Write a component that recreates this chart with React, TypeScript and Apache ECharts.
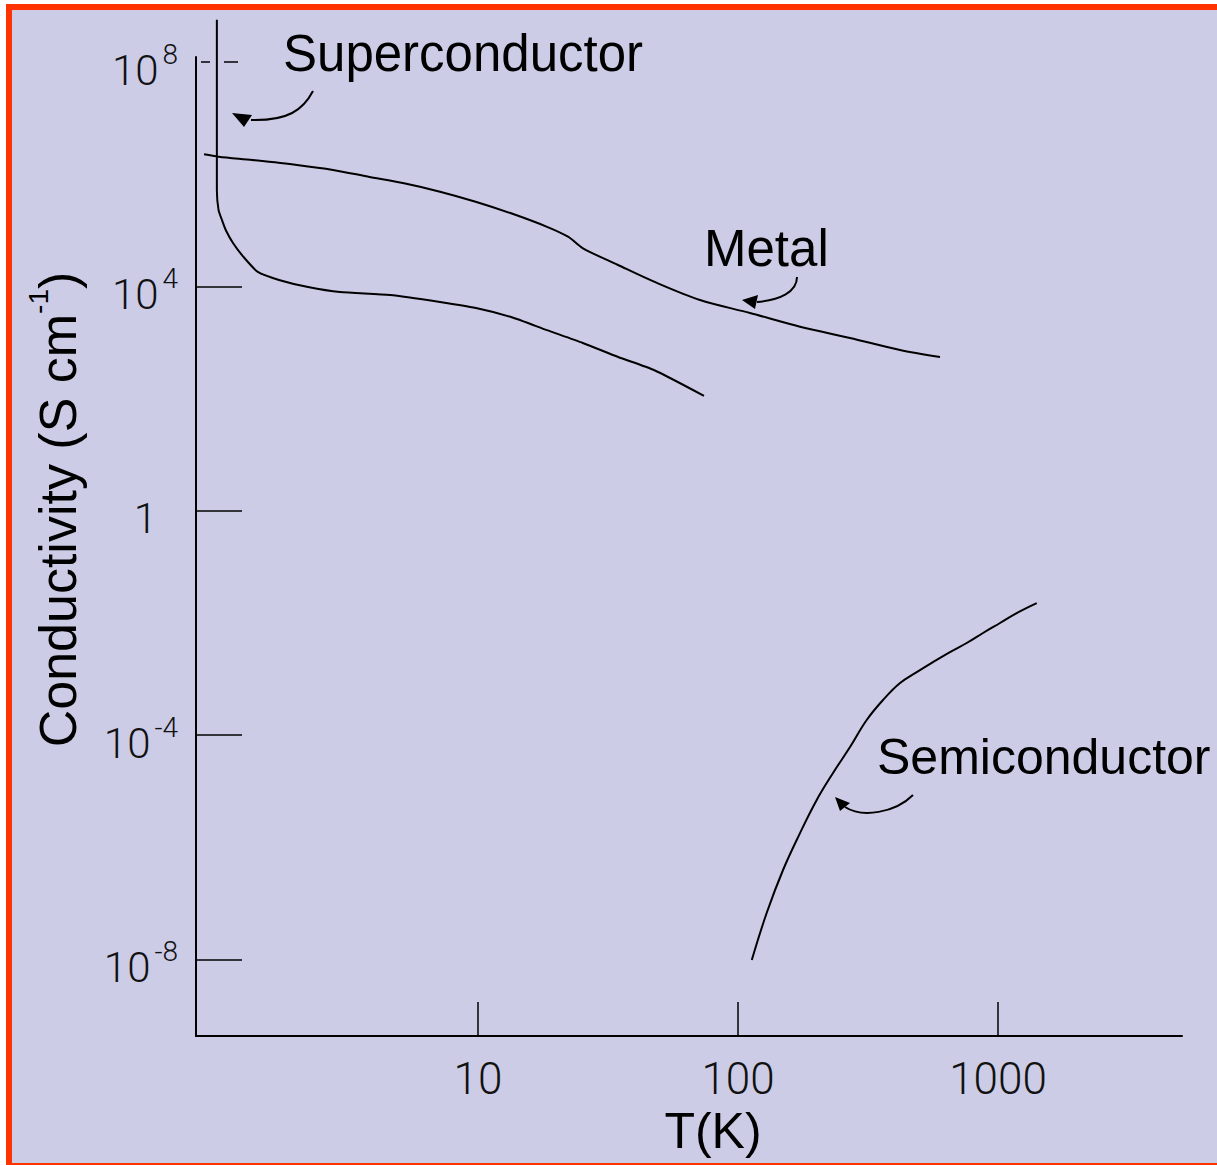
import React, { useEffect, useRef } from 'react';
import * as echarts from 'echarts';

// ---- data (temperature in K, conductivity in S/cm) ----
const superconductorT = [0.99, 0.99, 0.99, 1.005, 1.036, 1.071, 1.142, 1.254, 1.423, 1.716, 2.22, 2.945, 4.59, 7.14, 9.82, 13.4, 18.4, 25.3, 34.6, 47.5, 74.0];
const superconductorSigma = [5.7e8, 7.0e6, 5.2e5, 2.31e5, 1.53e5, 1.02e5, 5.97e4, 3.36e4, 1.82e4, 1.31e4, 9.8e3, 7.98e3, 7.06e3, 5.3e3, 4.14e3, 2.86e3, 1.67e3, 984, 553, 324, 112];

const metalT = [0.884, 1.005, 1.357, 2.013, 2.769, 3.792, 5.193, 7.142, 9.79, 13.4, 18.43, 22.19, 25.34, 34.56, 47.54, 71.42, 111.2, 173.2, 269.7, 420, 598.4];
const metalSigma = [2.28e6, 2.07e6, 1.8e6, 1.47e6, 1.2e6, 9.08e5, 6.92e5, 4.91e5, 3.25e5, 2.02e5, 1.16e5, 7.73e4, 4.8e4, 2.42e4, 1.22e4, 5.74e3, 3.37e3, 1.92e3, 1.21e3, 738, 553];

const semiT = [113, 128.9, 149, 173.2, 200.8, 232, 269.7, 312.6, 361.2, 420, 486.9, 562.3, 653.8, 758.1, 875.8, 1018, 1180, 1409];
const semiSigma = [9.75e-9, 6.71e-8, 3.93e-7, 1.79e-6, 6.97e-6, 2.11e-5, 6.14e-5, 1.86e-4, 4.23e-4, 8.49e-4, 1.33e-3, 2.01e-3, 3.03e-3, 4.39e-3, 6.62e-3, 9.98e-3, 1.5e-2, 2.26e-2];

const xTickValues = [10, 100, 1000];
const xTickLabels = ['10', '100', '1000'];
const yTickValues = [1e-8, 1e-4, 1, 1e4, 1e8];
const yDashedTickValues = [1e8];

const seriesNames = ['Superconductor', 'Metal', 'Semiconductor'];
const axisNameX = 'T(K)';
const axisNameY = 'Conductivity (S cm{sup|-1})';

// ---- helpers ----
const lg = (v: number) => Math.log10(v);
const toPoints = (ts: number[], ss: number[]) => ts.map((t, i) => [lg(t), lg(ss[i])]);
const xTickExp = xTickValues.map((v) => Math.round(lg(v)));
const yTickExp = yTickValues.map((v) => Math.round(lg(v)));
const yDashedExp = yDashedTickValues.map((v) => Math.round(lg(v)));

const BG = '#CCCCE6';
const RED = '#FF3300';
const TXT = 'Liberation Sans, Arial, sans-serif';
const TICKFONT = 'Roboto, Liberation Sans, sans-serif';

const X_MIN = -0.0846;
const X_MAX = 3.7077;
const Y_MIN = -9.366;
const Y_MAX = 8.093;

function buildOption(): any {
  const lineStyle = { color: '#000', width: 2 };
  const yLabelFormatter = (v: number) => {
    const e = Math.round(v);
    if (e === 0) return '{one|1}';
    return '{b|10}{s|' + e + '}';
  };
  const yRich = {
    b: { fontFamily: TICKFONT, fontWeight: 300, fontSize: 42, color: '#111', padding: [16, 0, 0, 0], verticalAlign: 'middle' },
    one: { fontFamily: TICKFONT, fontWeight: 300, fontSize: 42, color: '#111', padding: [16, 21, 0, 0], verticalAlign: 'middle' },
    s: { fontFamily: TICKFONT, fontWeight: 300, fontSize: 28, color: '#111', padding: [0, 0, 16, 4], verticalAlign: 'middle' },
  };
  return {
    animation: false,
    backgroundColor: '#ffffff',
    grid: { left: 196, right: 35, top: 57, bottom: 129, outerBoundsMode: 'none', containLabel: false },
    xAxis: {
      type: 'value',
      min: X_MIN,
      max: X_MAX,
      axisLine: { show: true, onZero: false, lineStyle: { color: '#000', width: 2 } },
      axisTick: { show: true, inside: true, length: 34, lineStyle: { color: '#000', width: 1.5 }, customValues: xTickExp },
      axisLabel: {
        show: true,
        customValues: xTickExp,
        margin: 21,
        fontFamily: TICKFONT,
        fontWeight: 300,
        fontSize: 44,
        lineHeight: 44,
        color: '#111',
        formatter: (v: number) => {
          const i = xTickExp.indexOf(Math.round(v));
          return i >= 0 ? xTickLabels[i] : '';
        },
      },
      splitLine: { show: false },
      name: axisNameX,
      nameLocation: 'middle',
      nameGap: 65,
      nameTextStyle: { fontFamily: TXT, fontSize: 50, lineHeight: 50, color: '#000', padding: [0, 0, 0, 48] },
    },
    yAxis: [
      {
        type: 'value',
        min: Y_MIN,
        max: Y_MAX,
        position: 'left',
        axisLine: { show: true, onZero: false, lineStyle: { color: '#000', width: 2 } },
        axisTick: { show: true, inside: true, length: 46, lineStyle: { color: '#000', width: 1.5 }, customValues: yTickExp.filter((e) => yDashedExp.indexOf(e) < 0) },
        axisLabel: { show: true, customValues: yTickExp, margin: 18, formatter: yLabelFormatter, rich: yRich },
        splitLine: { show: false },
        name: axisNameY,
        nameLocation: 'middle',
        nameGap: 112,
        nameTextStyle: {
          fontFamily: TXT,
          fontSize: 52,
          lineHeight: 52,
          color: '#000',
          padding: [0, 0, 0, 74],
          rich: { sup: { fontFamily: TXT, fontSize: 28, color: '#000', padding: [0, 0, 40, 0], verticalAlign: 'middle' } },
        },
      },
      {
        type: 'value',
        min: Y_MIN,
        max: Y_MAX,
        position: 'left',
        offset: 0,
        axisLine: { show: false, onZero: false },
        axisTick: { show: true, inside: true, length: 42, lineStyle: { color: '#000', width: 1.5, type: [9, 14, 14, 10], dashOffset: 42 }, customValues: yDashedExp },
        axisLabel: { show: false },
        splitLine: { show: false },
      },
    ],
    series: [
      { name: seriesNames[0], type: 'line', data: toPoints(superconductorT, superconductorSigma), showSymbol: false, smooth: 0.2, clip: false, lineStyle },
      { name: seriesNames[1], type: 'line', data: toPoints(metalT, metalSigma), showSymbol: false, smooth: 0.3, clip: false, lineStyle },
      { name: seriesNames[2], type: 'line', data: toPoints(semiT, semiSigma), showSymbol: false, smooth: 0.4, clip: false, lineStyle },
    ],
    graphic: [
      { type: 'rect', z: -10, silent: true, shape: { x: 6, y: 4, width: 1300, height: 1300 }, style: { fill: RED } },
      { type: 'rect', z: -9, silent: true, shape: { x: 12, y: 10, width: 1300, height: 1153 }, style: { fill: BG } },
      { type: 'text', z: 10, x: 283, y: 53, style: { text: seriesNames[0], fontFamily: TXT, fontSize: 51, fill: '#000', align: 'left', verticalAlign: 'middle' } },
      { type: 'text', z: 10, x: 704, y: 248, style: { text: seriesNames[1], fontFamily: TXT, fontSize: 51, fill: '#000', align: 'left', verticalAlign: 'middle' } },
      { type: 'text', z: 10, x: 877, y: 757, style: { text: seriesNames[2], fontFamily: TXT, fontSize: 50, fill: '#000', align: 'left', verticalAlign: 'middle' } },
      // arrows
      { type: 'bezierCurve', z: 10, shape: { x1: 313, y1: 91, cpx1: 303, cpy1: 110, cpx2: 288, cpy2: 121, x2: 251, y2: 120 }, style: { stroke: '#000', lineWidth: 2, fill: 'none' } },
      { type: 'polygon', z: 10, shape: { points: [[232, 113], [252, 115], [244, 127]] }, style: { fill: '#000' } },
      { type: 'bezierCurve', z: 10, shape: { x1: 797, y1: 277, cpx1: 797, cpy1: 292, cpx2: 780, cpy2: 300, x2: 757, y2: 302 }, style: { stroke: '#000', lineWidth: 2, fill: 'none' } },
      { type: 'polygon', z: 10, shape: { points: [[742, 300], [758, 295], [755, 309]] }, style: { fill: '#000' } },
      { type: 'bezierCurve', z: 10, shape: { x1: 913, y1: 795, cpx1: 895, cpy1: 813, cpx2: 862, cpy2: 818, x2: 845, y2: 807 }, style: { stroke: '#000', lineWidth: 2, fill: 'none' } },
      { type: 'polygon', z: 10, shape: { points: [[835, 797], [850, 803], [840, 811]] }, style: { fill: '#000' } },
    ],
  };
}

export default function App() {
  const ref = useRef<HTMLDivElement>(null);
  useEffect(() => {
    document.body.style.margin = '0';
    document.body.style.overflow = 'hidden';
    const chart = echarts.init(ref.current as HTMLDivElement, null, { renderer: 'svg' });
    chart.setOption(buildOption());
    return () => {
      chart.dispose();
    };
  }, []);
  return <div ref={ref} style={{ width: 1217, height: 1165 }} />;
}
